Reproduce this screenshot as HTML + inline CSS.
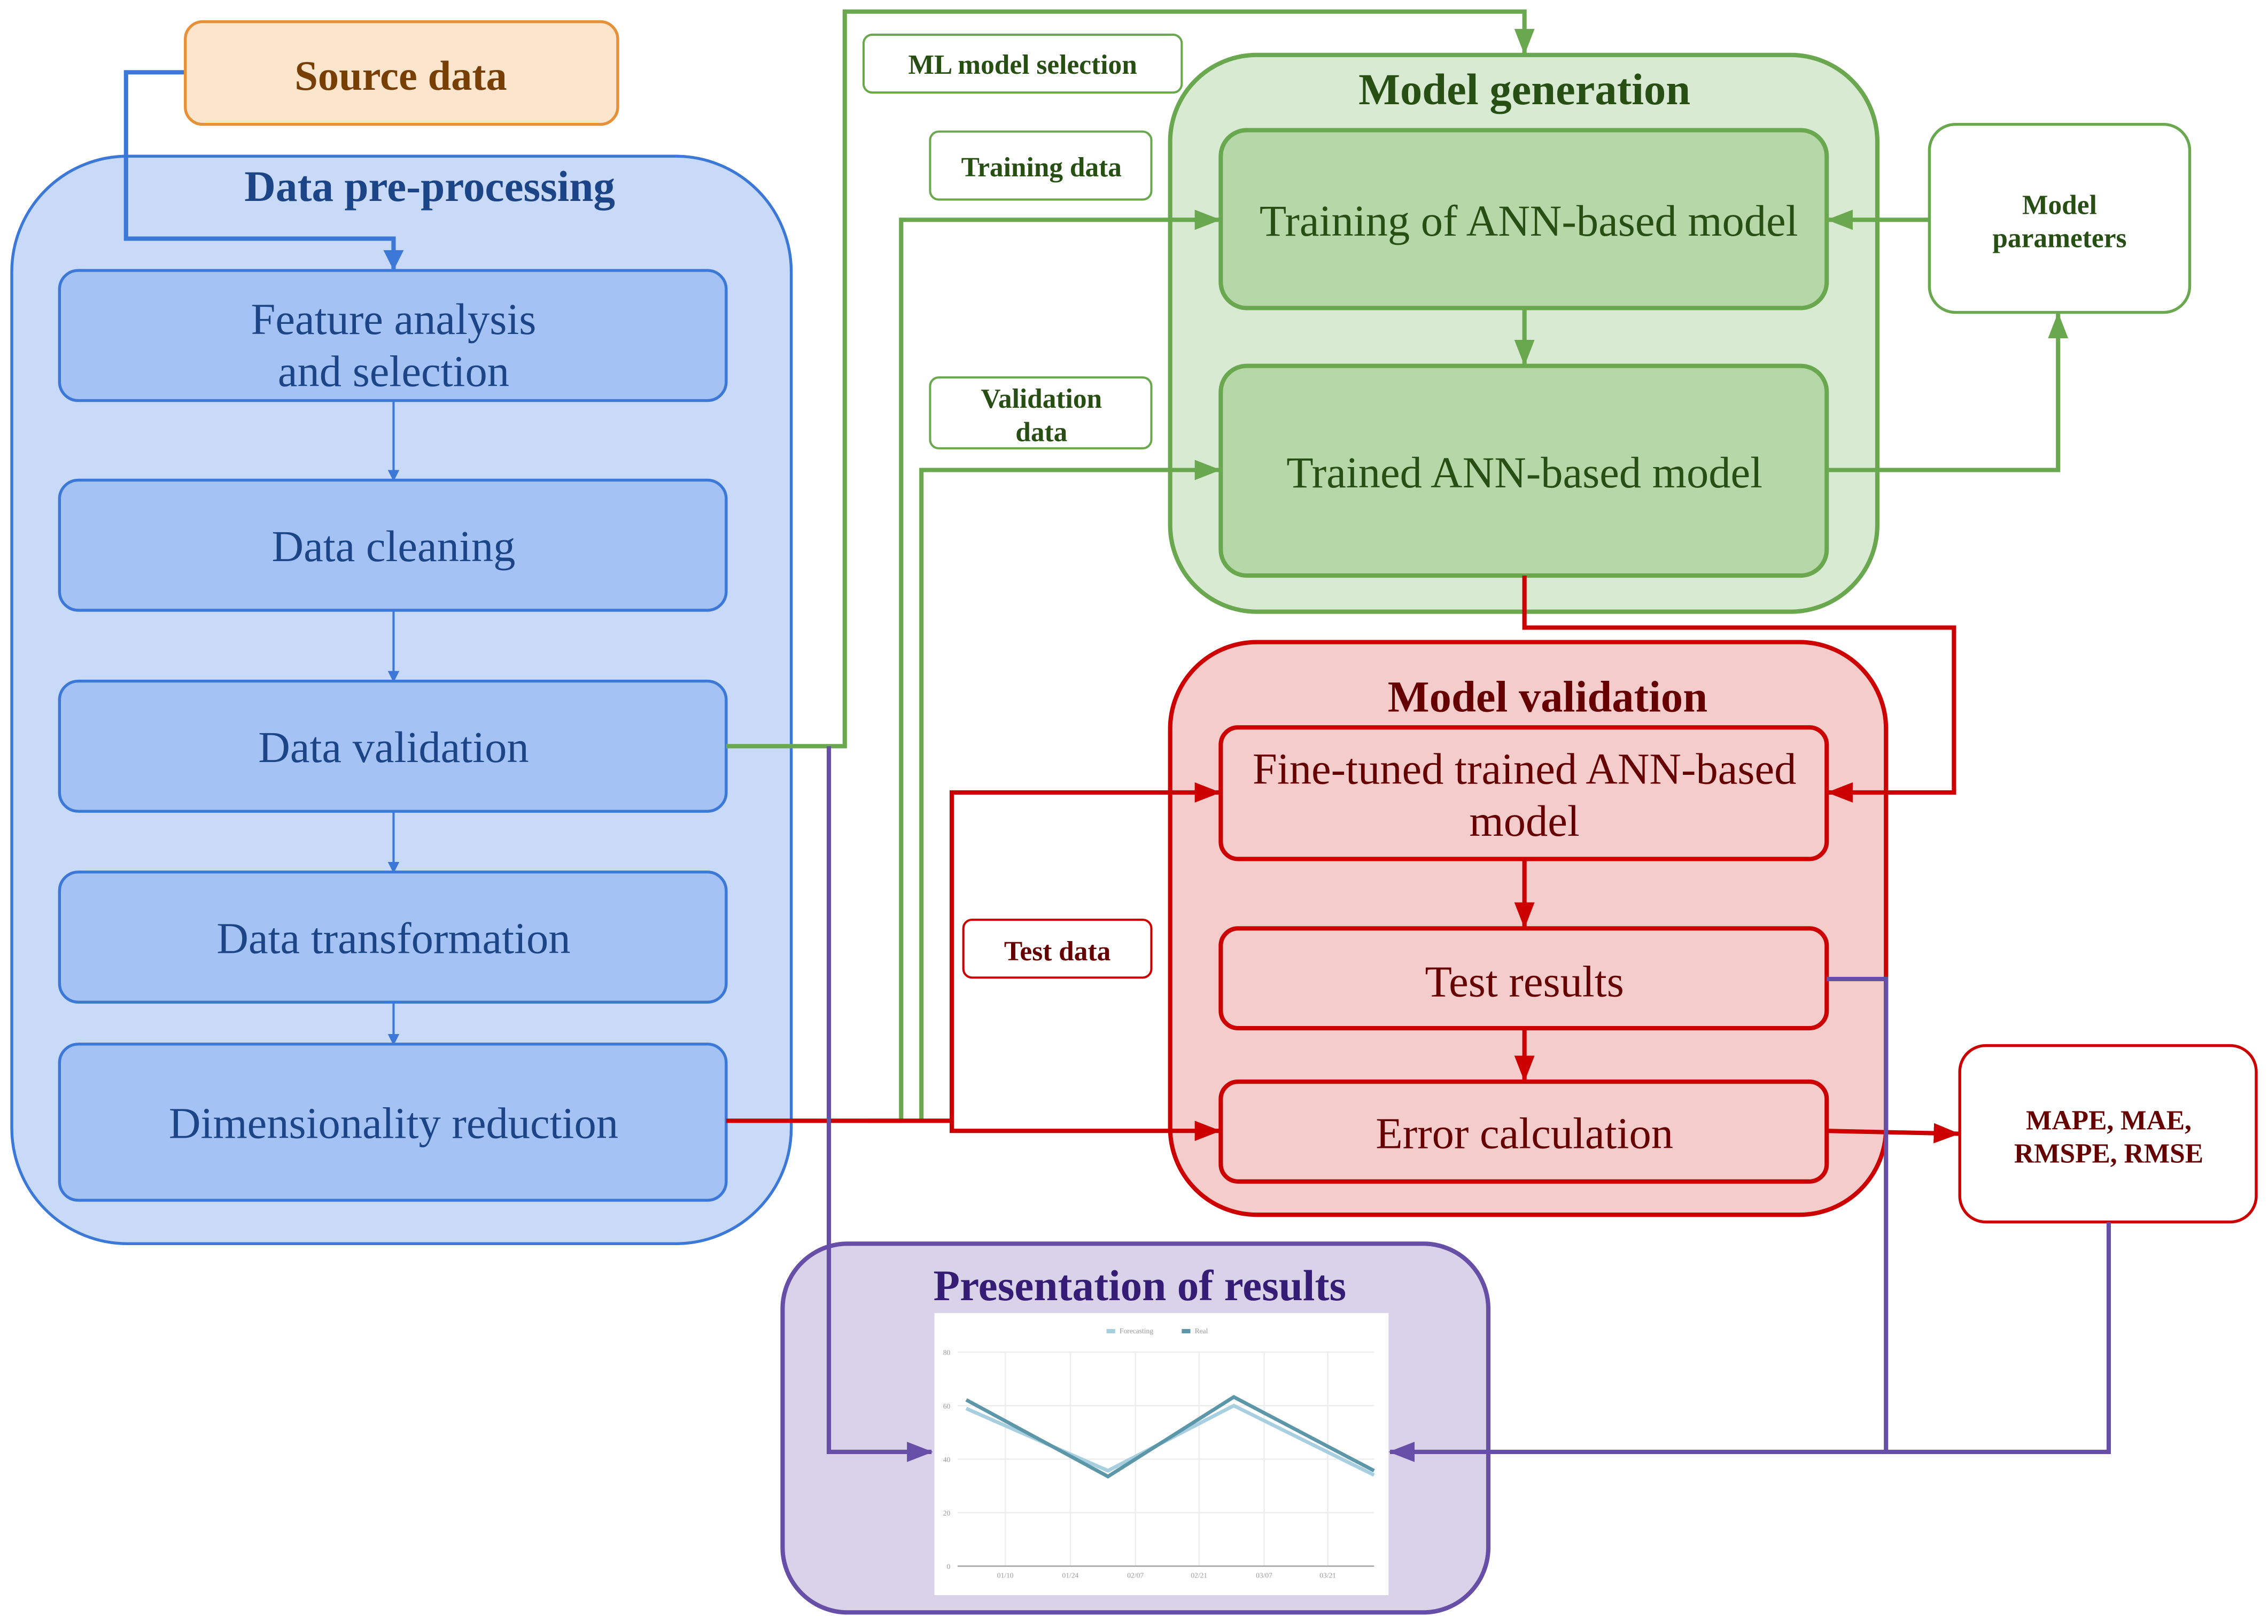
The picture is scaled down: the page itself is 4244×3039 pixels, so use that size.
<!DOCTYPE html>
<html><head><meta charset="utf-8"><style>
html,body{margin:0;padding:0;background:#fff;}
svg{display:block;}
text{font-family:"Liberation Serif",serif;}
</style></head><body>
<svg width="4244" height="3039" viewBox="0 0 1568 1123" xmlns="http://www.w3.org/2000/svg">
<defs>
<marker id="ab" markerWidth="8" markerHeight="8" refX="7" refY="4" orient="auto" markerUnits="userSpaceOnUse"><path d="M0,0 L8,4 L0,8 z" fill="#3c78d8"/></marker>
<marker id="abb" markerWidth="14" markerHeight="20" refX="13" refY="7" orient="auto" markerUnits="userSpaceOnUse"><path d="M0,0 L14,7 L0,14 z" fill="#3c78d8"/></marker>
<marker id="ag" markerWidth="18" markerHeight="14" refX="17" refY="7" orient="auto" markerUnits="userSpaceOnUse"><path d="M0,0 L18,7 L0,14 z" fill="#6aa84f"/></marker>
<marker id="ar" markerWidth="18" markerHeight="14" refX="17" refY="7" orient="auto" markerUnits="userSpaceOnUse"><path d="M0,0 L18,7 L0,14 z" fill="#cc0000"/></marker>
<marker id="ap" markerWidth="18" markerHeight="14" refX="17" refY="7" orient="auto" markerUnits="userSpaceOnUse"><path d="M0,0 L18,7 L0,14 z" fill="#674ea7"/></marker>
</defs>
<rect width="1568" height="1123" fill="#fff"/>

<!-- Data pre-processing -->
<rect x="8" y="108" width="539" height="752" rx="80" fill="#c9daf8" stroke="#3c78d8" stroke-width="2"/>
<text x="297" y="139" text-anchor="middle" font-size="30" font-weight="bold" fill="#1c4587">Data pre-processing</text>
<g fill="#a4c2f4" stroke="#3c78d8" stroke-width="2">
<rect x="41" y="187" width="461" height="90" rx="13"/>
<rect x="41" y="332" width="461" height="90" rx="13"/>
<rect x="41" y="471" width="461" height="90" rx="13"/>
<rect x="41" y="603" width="461" height="90" rx="13"/>
<rect x="41" y="722" width="461" height="108" rx="13"/>
</g>
<g font-size="30.5" fill="#1c4587" text-anchor="middle">
<text x="272" y="231">Feature analysis</text>
<text x="272" y="267">and selection</text>
<text x="272" y="388">Data cleaning</text>
<text x="272" y="527">Data validation</text>
<text x="272" y="659">Data transformation</text>
<text x="272" y="787">Dimensionality reduction</text>
</g>
<g stroke="#3c78d8" stroke-width="1.5" fill="none">
<line x1="272" y1="277" x2="272" y2="332" marker-end="url(#ab)"/>
<line x1="272" y1="422" x2="272" y2="471" marker-end="url(#ab)"/>
<line x1="272" y1="561" x2="272" y2="603" marker-end="url(#ab)"/>
<line x1="272" y1="693" x2="272" y2="722" marker-end="url(#ab)"/>
<polyline points="128,50 87,50 87,165 272,165 272,186" stroke-width="3" marker-end="url(#abb)"/>
</g>

<!-- Source -->
<rect x="128" y="15" width="299" height="71" rx="12" fill="#fce5cd" stroke="#e69138" stroke-width="2"/>
<text x="277" y="62" text-anchor="middle" font-size="29" font-weight="bold" fill="#783f04">Source data</text>

<!-- Model generation -->
<rect x="809" y="38" width="489" height="385" rx="60" fill="#d9ead3" stroke="#6aa84f" stroke-width="3"/>
<text x="1054" y="72" text-anchor="middle" font-size="30.5" font-weight="bold" fill="#274e13">Model generation</text>
<rect x="844" y="90" width="419" height="123" rx="18" fill="#b6d7a8" stroke="#6aa84f" stroke-width="3"/>
<rect x="844" y="253" width="419" height="145" rx="18" fill="#b6d7a8" stroke="#6aa84f" stroke-width="3"/>
<text x="1057" y="163" text-anchor="middle" font-size="30.5" fill="#274e13">Training of ANN-based model</text>
<text x="1054" y="337" text-anchor="middle" font-size="30.5" fill="#274e13">Trained ANN-based model</text>
<rect x="1334" y="86" width="180" height="130" rx="18" fill="#fff" stroke="#6aa84f" stroke-width="2"/>
<text x="1424" y="148" text-anchor="middle" font-size="19" font-weight="bold" fill="#274e13">Model</text>
<text x="1424" y="171" text-anchor="middle" font-size="19" font-weight="bold" fill="#274e13">parameters</text>

<!-- Labels -->
<g fill="#fff" stroke-width="1.5">
<rect x="597" y="24" width="220" height="40" rx="6" stroke="#6aa84f"/>
<rect x="643" y="91" width="153" height="47" rx="6" stroke="#6aa84f"/>
<rect x="643" y="261" width="153" height="49" rx="6" stroke="#6aa84f"/>
<rect x="666" y="636" width="130" height="40" rx="6" stroke="#cc0000"/>
</g>
<g font-size="19" font-weight="bold" text-anchor="middle" fill="#274e13">
<text x="707" y="51">ML model selection</text>
<text x="720" y="122">Training data</text>
<text x="720" y="282">Validation</text>
<text x="720" y="305">data</text>
<text x="731" y="664" fill="#660000">Test data</text>
</g>

<!-- Green connectors -->
<g stroke="#6aa84f" stroke-width="3" fill="none">
<polyline points="502,516 584,516 584,8 1054,8 1054,37" marker-end="url(#ag)"/>
<polyline points="600,775 623,775 623,152 843,152" marker-end="url(#ag)"/>
<polyline points="637,775 637,325 843,325" marker-end="url(#ag)"/>
<line x1="1054" y1="213" x2="1054" y2="252" marker-end="url(#ag)"/>
<line x1="1334" y1="152" x2="1264" y2="152" marker-end="url(#ag)"/>
<polyline points="1263,325 1423,325 1423,217" marker-end="url(#ag)"/>
</g>

<!-- Model validation -->
<rect x="809" y="444" width="495" height="396" rx="60" fill="#f4cccc" stroke="#cc0000" stroke-width="3"/>
<text x="1070" y="492" text-anchor="middle" font-size="30.5" font-weight="bold" fill="#660000">Model validation</text>
<g fill="#f4cccc" stroke="#cc0000" stroke-width="3">
<rect x="844" y="503" width="419" height="91" rx="12"/>
<rect x="844" y="642" width="419" height="69" rx="12"/>
<rect x="844" y="748" width="419" height="69" rx="12"/>
</g>
<g font-size="30.5" fill="#660000" text-anchor="middle">
<text x="1054" y="542">Fine-tuned trained ANN-based</text>
<text x="1054" y="578">model</text>
<text x="1054" y="689">Test results</text>
<text x="1054" y="794">Error calculation</text>
</g>
<rect x="1355" y="723" width="205" height="122" rx="18" fill="#fff" stroke="#cc0000" stroke-width="2"/>
<text x="1458" y="781" text-anchor="middle" font-size="19" font-weight="bold" fill="#660000">MAPE, MAE,</text>
<text x="1458" y="804" text-anchor="middle" font-size="19" font-weight="bold" fill="#660000">RMSPE, RMSE</text>

<!-- Red connectors -->
<g stroke="#cc0000" stroke-width="3" fill="none">
<polyline points="502,775 658,775 658,548 843,548" marker-end="url(#ar)"/>
<polyline points="658,775 658,782 843,782" marker-end="url(#ar)"/>
<polyline points="1054,398 1054,434 1351,434 1351,548 1264,548" marker-end="url(#ar)"/>
<line x1="1054" y1="594" x2="1054" y2="641" marker-end="url(#ar)"/>
<line x1="1054" y1="711" x2="1054" y2="747" marker-end="url(#ar)"/>
<line x1="1263" y1="782" x2="1354" y2="784" marker-end="url(#ar)"/>
</g>

<!-- Presentation -->
<rect x="541" y="860" width="488" height="255" rx="45" fill="#d9d2e9" stroke="#674ea7" stroke-width="3"/>
<text x="788" y="899" text-anchor="middle" font-size="30" font-weight="bold" fill="#351c75">Presentation of results</text>
<rect x="646" y="908" width="314" height="195" fill="#fff"/>
<g stroke="#eee" stroke-width="1">
<line x1="662" y1="935" x2="950" y2="935"/><line x1="662" y1="972" x2="950" y2="972"/>
<line x1="662" y1="1009" x2="950" y2="1009"/><line x1="662" y1="1046" x2="950" y2="1046"/>
<line x1="695" y1="935" x2="695" y2="1083"/><line x1="740" y1="935" x2="740" y2="1083"/>
<line x1="785" y1="935" x2="785" y2="1083"/><line x1="829" y1="935" x2="829" y2="1083"/>
<line x1="874" y1="935" x2="874" y2="1083"/><line x1="918" y1="935" x2="918" y2="1083"/>
</g>
<line x1="662" y1="1083" x2="950" y2="1083" stroke="#aaa" stroke-width="1"/>
<polyline points="668,974 766,1017 853,972 950,1020" fill="none" stroke="#a8cfe0" stroke-width="2.5"/>
<polyline points="668,968 766,1021 853,966 950,1017" fill="none" stroke="#5b97a8" stroke-width="2.5"/>
<g font-size="5" fill="#999" font-family="Liberation Sans">
<text x="657" y="937" text-anchor="end">80</text><text x="657" y="974" text-anchor="end">60</text>
<text x="657" y="1011" text-anchor="end">40</text><text x="657" y="1048" text-anchor="end">20</text>
<text x="657" y="1085" text-anchor="end">0</text>
<text x="695" y="1091" text-anchor="middle">01/10</text><text x="740" y="1091" text-anchor="middle">01/24</text>
<text x="785" y="1091" text-anchor="middle">02/07</text><text x="829" y="1091" text-anchor="middle">02/21</text>
<text x="874" y="1091" text-anchor="middle">03/07</text><text x="918" y="1091" text-anchor="middle">03/21</text>
<rect x="765" y="919" width="6" height="3" fill="#a8cfe0"/><text x="774" y="922">Forecasting</text>
<rect x="817" y="919" width="6" height="3" fill="#5b97a8"/><text x="826" y="922">Real</text>
</g>

<!-- Purple connectors -->
<g stroke="#674ea7" stroke-width="3" fill="none">
<polyline points="573,516 573,1004 644,1004" marker-end="url(#ap)"/>
<polyline points="1458,845 1458,1004 961,1004" marker-end="url(#ap)"/>
<polyline points="1263,677 1304,677 1304,1004"/>
</g>
</svg>
</body></html>
